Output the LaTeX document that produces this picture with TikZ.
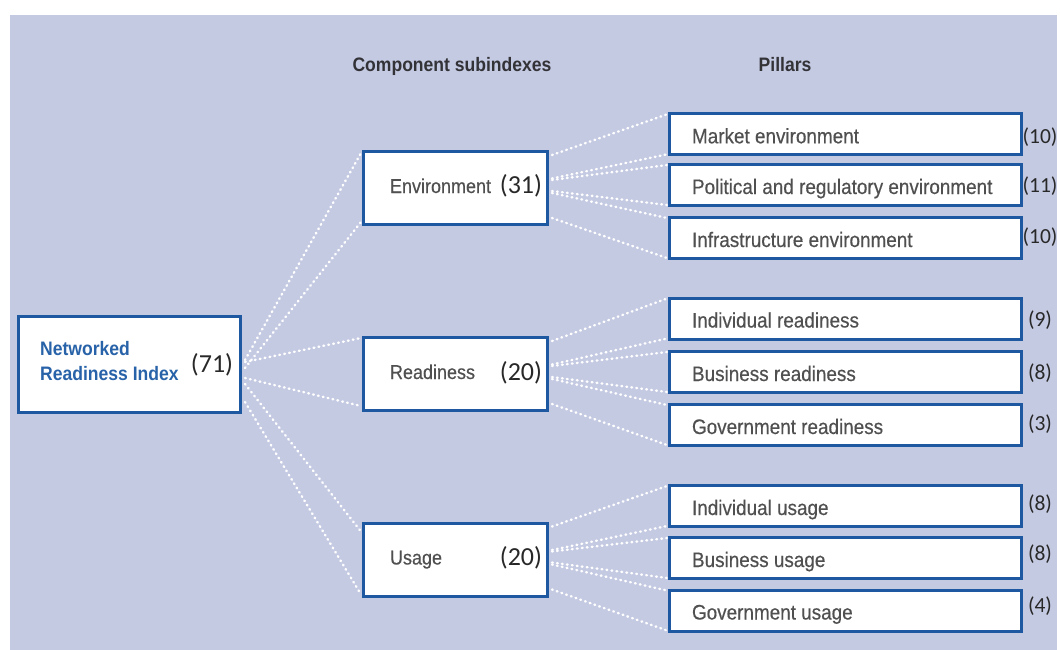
\documentclass[tikz,border=0pt]{standalone}
\usepackage{fontspec}
\setmainfont{Liberation Sans}
\newfontfamily\condfont{Liberation Sans}[FakeStretch=0.9]
\newfontfamily\labelfont{Liberation Sans}[FakeStretch=0.9,FakeBold=0.4]
\newfontfamily\numfont{Carlito}
\definecolor{panel}{RGB}{197,202,227}
\definecolor{boxblue}{RGB}{30,88,160}
\definecolor{titleblue}{RGB}{40,98,168}
\definecolor{labelgray}{RGB}{80,80,80}
\definecolor{headgray}{RGB}{50,50,55}
\definecolor{numgray}{RGB}{40,40,40}
% subindex box content: label on the left, pillar count on the right
\newcommand\subtext[2]{\makebox[184pt][l]{\hspace{26.5pt}#1\hfill{\numfont\fontsize{26}{30}\selectfont\color{numgray}\raisebox{-1pt}{#2}}\hspace{5.5pt}}}
% pillar box content: left-aligned label
\newcommand\pillartext[1]{\makebox[352pt][l]{\hspace{22.5pt}#1}}
\begin{document}
\begin{tikzpicture}[x=1pt,y=-1pt,
  frame/.style={draw=boxblue,line width=3pt,fill=white,inner sep=0pt},
  mainbox/.style={frame,minimum width=222pt,minimum height=96pt},
  subbox/.style={frame,minimum width=184pt,minimum height=73pt,text height=14pt,text depth=4pt,
    font=\labelfont\fontsize{20}{24}\selectfont,text=labelgray},
  pillarbox/.style={frame,minimum width=352pt,minimum height=41pt,text height=18pt,text depth=0pt,
    font=\labelfont\fontsize{21}{25}\selectfont,text=labelgray},
  heading/.style={anchor=base,inner sep=0pt,font=\condfont\bfseries\fontsize{19.5}{23}\selectfont,text=headgray},
  count/.style={inner sep=0pt,font=\numfont\fontsize{21.5}{25}\selectfont,text=numgray},
  dotline/.style={white,line width=2.4pt,line cap=round,dash pattern=on 0.8pt off 4.2pt}
]
\useasboundingbox (0,0) rectangle (1060,650);
\fill[panel] (9.5,15) rectangle (1057,650);

% column headings
\node[heading] (hsub) at (452,72) {Component subindexes};
\node[heading] (hpil) at (785,72) {Pillars};

% overall index
\node[mainbox] (nri) at (129.5,364.5) {};
\node[anchor=west,align=left,inner sep=0pt,text=titleblue,
  font=\condfont\bfseries\fontsize{19.5}{24.5}\selectfont] (nrititle)
  at ([xshift=23pt,yshift=3.5pt]nri.west) {Networked\\Readiness Index};
\node[inner sep=0pt,text=numgray,font=\numfont\fontsize{26}{30}\selectfont] (nrinum) at (212,365) {(71)};

% component subindexes
\node[subbox] (env) at (455.5,188) {\subtext{Environment}{(31)}};
\node[subbox] (rdy) at (455.5,374) {\subtext{Readiness}{(20)}};
\node[subbox] (use) at (455.5,559.5) {\subtext{Usage}{(20)}};

% pillars with their counts
\foreach \nm/\yy/\cy/\txt/\cnt in {
  m1/134.3/137/Market environment/(10),
  m2/185/186/Political and regulatory environment/(11),
  m3/238/237/Infrastructure environment/(10),
  r1/318.5/320/Individual readiness/(9),
  r2/372/373/Business readiness/(8),
  r3/425/424/Government readiness/(3),
  u1/506/504/Individual usage/(8),
  u2/558/554/Business usage/(8),
  u3/610.5/606/Government usage/(4)} {
  \node[pillarbox] (\nm) at (845.5,\yy) {\pillartext{\txt}};
  \node[count] (c\nm) at (1040,\cy) {\cnt};
}

% index to subindexes
\draw[dotline] ([xshift=3pt,yshift=4.5pt]nri.east) -- ([xshift=-1pt,yshift=-3pt]env.north west);
\draw[dotline] ([xshift=3pt,yshift=-3.5pt]nri.east) -- ([xshift=-1pt,yshift=4pt]env.south west);
\draw[dotline] ([xshift=3pt,yshift=2.5pt]nri.east) -- ([xshift=-1pt,yshift=-2pt]rdy.north west);
\draw[dotline] ([xshift=3pt,yshift=-13.5pt]nri.east) -- ([xshift=-1pt,yshift=6pt]rdy.south west);
\draw[dotline] ([xshift=3pt,yshift=-19.5pt]nri.east) -- ([xshift=-1pt,yshift=-10pt]use.north west);
\draw[dotline] ([xshift=3pt,yshift=-37.5pt]nri.east) -- ([xshift=-1pt,yshift=3pt]use.south west);

% subindexes to pillars
\foreach \sub/\a/\b/\c in {env/m1/m2/m3, rdy/r1/r2/r3, use/u1/u2/u3} {
  \draw[dotline] ([xshift=3pt,yshift=33pt]\sub.east) -- ([xshift=-1pt,yshift=-2pt]\a.north west);
  \draw[dotline] ([xshift=3pt,yshift=9.5pt]\sub.east) -- ([xshift=-1pt,yshift=2pt]\a.south west);
  \draw[dotline] ([xshift=3pt,yshift=8pt]\sub.east) -- ([xshift=-1pt,yshift=-2pt]\b.north west);
  \draw[dotline] ([xshift=3pt,yshift=-3pt]\sub.east) -- ([xshift=-1pt,yshift=2pt]\b.south west);
  \draw[dotline] ([xshift=3pt,yshift=-5pt]\sub.east) -- ([xshift=-1pt,yshift=-2pt]\c.north west);
  \draw[dotline] ([xshift=3pt,yshift=-30pt]\sub.east) -- ([xshift=-1pt,yshift=2pt]\c.south west);
}
\end{tikzpicture}
\end{document}
